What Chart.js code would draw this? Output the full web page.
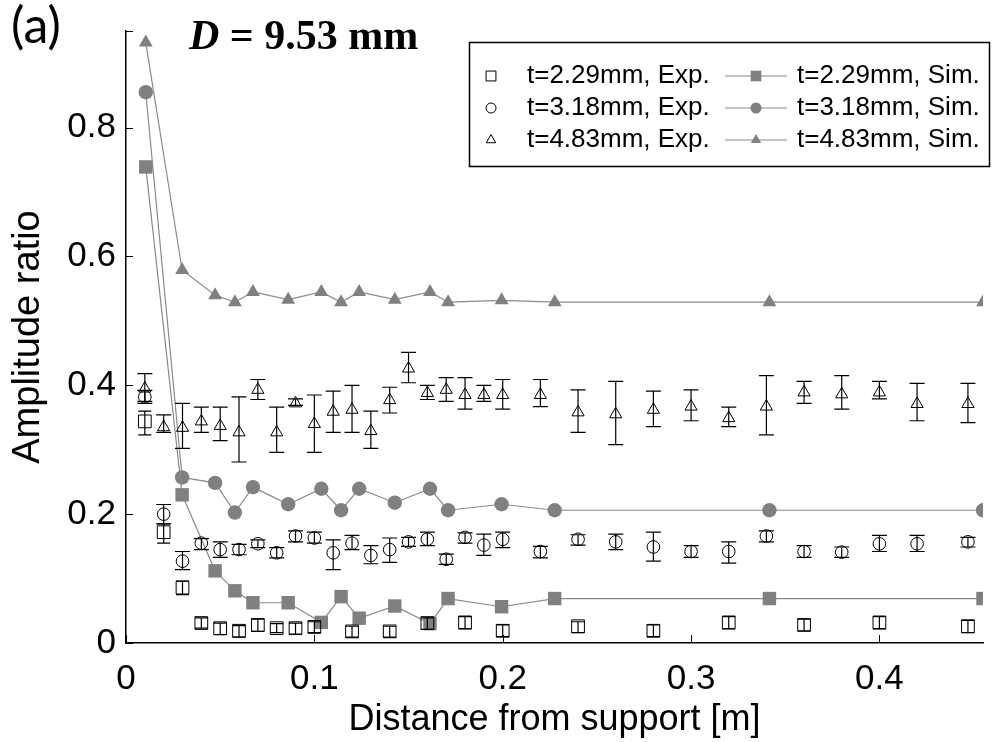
<!DOCTYPE html>
<html><head><meta charset="utf-8">
<script src="https://cdn.jsdelivr.net/npm/chart.js@4.4.1/dist/chart.umd.min.js"></script>
<style>
html,body{margin:0;padding:0;background:#fff;}
#wrap{position:relative;width:993px;height:742px;overflow:hidden;}
#panel{position:absolute;left:11px;top:-6px;font:50px Lato,"Noto Sans",sans-serif;color:#000;line-height:1.2;}
#ttl{position:absolute;left:189px;top:10px;font:bold 42px "Liberation Serif","Times New Roman",serif;color:#000;white-space:pre;line-height:1.2;}
</style>
</head><body>
<div id="wrap">
<canvas id="c" width="993" height="742"></canvas>
<div id="panel">(a)</div>
<div id="ttl"><i>D</i> = 9.53 mm</div>
</div>
<script>
// ---------- data ----------
const xTicks = [0, 0.1, 0.2, 0.3, 0.4];
const yTicks = [0, 0.2, 0.4, 0.6, 0.8];

const seriesNames = ['t=2.29mm, Exp.', 't=3.18mm, Exp.', 't=4.83mm, Exp.',
                     't=2.29mm, Sim.', 't=3.18mm, Sim.', 't=4.83mm, Sim.'];

// simulation
const simX   = [0.0105, 0.0298, 0.0473, 0.0578, 0.0674, 0.0861, 0.1037, 0.1142, 0.1238, 0.1427, 0.1614, 0.171, 0.1994, 0.2276, 0.3416, 0.455];
const sim229 = [0.739, 0.230, 0.112, 0.081, 0.0625, 0.0625, 0.032, 0.072, 0.0385, 0.0574, 0.030, 0.069, 0.0563, 0.069, 0.069, 0.069];
const sim318 = [0.855, 0.257, 0.2486, 0.2025, 0.242, 0.2154, 0.2394, 0.2061, 0.2394, 0.2178, 0.2394, 0.2061, 0.2154, 0.2061, 0.2061, 0.2061];
const sim483 = [0.932, 0.579, 0.540, 0.529, 0.545, 0.533, 0.545, 0.529, 0.545, 0.533, 0.545, 0.529, 0.532, 0.529, 0.529, 0.529];

// experiments (t=3.18, t=4.83 share positions)
const expX = [0.01, 0.02, 0.03, 0.04, 0.05, 0.06, 0.07, 0.08, 0.09, 0.10,
              0.11, 0.12, 0.13, 0.14, 0.15, 0.16, 0.17, 0.18, 0.19, 0.20,
              0.22, 0.24, 0.26, 0.28, 0.30, 0.32, 0.34, 0.36, 0.38, 0.40, 0.42, 0.447];
const exp483   = [0.395, 0.335, 0.334, 0.344, 0.337, 0.327, 0.393, 0.327, 0.372, 0.340,
                  0.359, 0.362, 0.329, 0.377, 0.426, 0.388, 0.393, 0.385, 0.385, 0.385,
                  0.385, 0.358, 0.355, 0.362, 0.367, 0.349, 0.367, 0.389, 0.386, 0.389, 0.371, 0.371];
const exp483Lo = [0.375, 0.327, 0.302, 0.327, 0.314, 0.281, 0.378, 0.296, 0.369, 0.296,
                  0.327, 0.327, 0.302, 0.357, 0.404, 0.378, 0.375, 0.363, 0.375, 0.363,
                  0.367, 0.327, 0.308, 0.336, 0.345, 0.336, 0.323, 0.372, 0.363, 0.379, 0.345, 0.342];
const exp483Hi = [0.418, 0.354, 0.372, 0.366, 0.366, 0.382, 0.409, 0.366, 0.379, 0.385,
                  0.391, 0.400, 0.360, 0.397, 0.451, 0.400, 0.412, 0.412, 0.400, 0.409,
                  0.409, 0.393, 0.406, 0.391, 0.393, 0.366, 0.415, 0.406, 0.415, 0.406, 0.403, 0.403];

const exp318   = [0.382, 0.200, 0.127, 0.155, 0.145, 0.145, 0.154, 0.140, 0.166, 0.163,
                  0.140, 0.155, 0.136, 0.145, 0.157, 0.161, 0.130, 0.164, 0.152, 0.161,
                  0.142, 0.161, 0.157, 0.149, 0.142, 0.142, 0.166, 0.142, 0.141, 0.154, 0.154, 0.157];
const exp318Lo = [0.372, 0.185, 0.114, 0.145, 0.133, 0.137, 0.148, 0.132, 0.157, 0.155,
                  0.114, 0.145, 0.123, 0.125, 0.150, 0.151, 0.122, 0.155, 0.136, 0.148,
                  0.132, 0.152, 0.145, 0.127, 0.133, 0.124, 0.157, 0.133, 0.133, 0.142, 0.142, 0.149];
const exp318Hi = [0.392, 0.215, 0.142, 0.162, 0.157, 0.153, 0.160, 0.148, 0.174, 0.172,
                  0.160, 0.167, 0.151, 0.163, 0.164, 0.172, 0.138, 0.171, 0.169, 0.172,
                  0.150, 0.168, 0.169, 0.172, 0.151, 0.157, 0.174, 0.151, 0.149, 0.167, 0.167, 0.164];

const exp229X  = [0.01, 0.02, 0.03, 0.04, 0.05, 0.06, 0.07, 0.08, 0.09, 0.10,
                  0.12, 0.14, 0.16, 0.18, 0.20, 0.24, 0.28, 0.32, 0.36, 0.40, 0.447];
const exp229   = [0.344, 0.172, 0.086, 0.031, 0.023, 0.019, 0.028, 0.023, 0.023, 0.025,
                  0.018, 0.018, 0.031, 0.032, 0.019, 0.026, 0.019, 0.032, 0.028, 0.032, 0.026];
const exp229Lo = [0.323, 0.155, 0.075, 0.023, 0.013, 0.009, 0.018, 0.016, 0.014, 0.016,
                  0.009, 0.009, 0.021, 0.022, 0.010, 0.016, 0.010, 0.022, 0.019, 0.022, 0.016];
const exp229Hi = [0.360, 0.185, 0.096, 0.039, 0.031, 0.027, 0.037, 0.030, 0.031, 0.033,
                  0.026, 0.026, 0.039, 0.041, 0.028, 0.033, 0.028, 0.041, 0.037, 0.041, 0.035];

// ---------- styling ----------
const SIM = '#808080';
const SIMLINE = '#8a8a8a';
const FONT = '"Liberation Sans", Arial, sans-serif';

function pts(xs, ys){ return xs.map((x,i)=>({x:x, y:ys[i]})); }

const errSets = [
  {x: exp229X, lo: exp229Lo, hi: exp229Hi, cap: 13},
  {x: expX,    lo: exp318Lo, hi: exp318Hi, cap: 15},
  {x: expX,    lo: exp483Lo, hi: exp483Hi, cap: 15}
];

const errPlugin = {
  id: 'errbars',
  afterDatasetsDraw(chart){
    const {ctx, chartArea:a, scales:{x, y}} = chart;
    ctx.save();
    ctx.beginPath(); ctx.rect(a.left, a.top, a.right-a.left, a.bottom-a.top); ctx.clip();
    ctx.strokeStyle = '#000'; ctx.lineWidth = 1.2;
    errSets.forEach(es => {
      es.x.forEach((xv, i) => {
        const px = x.getPixelForValue(xv);
        const pl = y.getPixelForValue(es.lo[i]);
        const ph = y.getPixelForValue(es.hi[i]);
        const h = es.cap/2;
        ctx.beginPath();
        ctx.moveTo(px, pl); ctx.lineTo(px, ph);
        ctx.moveTo(px-h, pl); ctx.lineTo(px+h, pl);
        ctx.moveTo(px-h, ph); ctx.lineTo(px+h, ph);
        ctx.stroke();
      });
    });
    ctx.restore();
  }
};

const tickPlugin = {
  id: 'inwardTicks',
  afterDraw(chart){
    const {ctx, chartArea:a, scales:{x, y}} = chart;
    ctx.save(); ctx.strokeStyle = '#000'; ctx.lineWidth = 1;
    ctx.beginPath();
    x.ticks.forEach(t => { const px = Math.round(x.getPixelForValue(t.value))+0.5; ctx.moveTo(px, a.bottom); ctx.lineTo(px, a.bottom-8); });
    y.ticks.concat([{value: y.max}]).forEach(t => { const py = Math.round(y.getPixelForValue(t.value))+0.5; ctx.moveTo(a.left, py); ctx.lineTo(a.left+7, py); });
    ctx.stroke();
    ctx.restore();
  }
};

function marker(ctx, style, x, y, r){
  ctx.beginPath();
  if (style === 'rect'){ const s = r*Math.SQRT1_2; ctx.rect(x-s, y-s, 2*s, 2*s); }
  else if (style === 'circle'){ ctx.arc(x, y, r, 0, Math.PI*2); }
  else { ctx.moveTo(x, y-r); ctx.lineTo(x+0.866*r, y+0.5*r); ctx.lineTo(x-0.866*r, y+0.5*r); ctx.closePath(); }
}

const legendPlugin = {
  id: 'boxLegend',
  afterDraw(chart){
    const ctx = chart.ctx;
    const ds = chart.data.datasets;
    ctx.save();
    ctx.fillStyle = '#fff'; ctx.fillRect(469, 42, 521, 125);
    ctx.strokeStyle = '#000'; ctx.lineWidth = 1.5; ctx.strokeRect(469.5, 42.5, 520, 124);
    const rows = [76, 108, 140];
    const eR = [7, 5, 5.5], sR = [7.5, 5.5, 6];
    ctx.font = '26px ' + FONT; ctx.textBaseline = 'middle'; ctx.textAlign = 'left';
    for (let i = 0; i < 3; i++){
      const e = ds[i], s = ds[i+3], yy = rows[i];
      ctx.lineWidth = 1; ctx.strokeStyle = '#000';
      marker(ctx, e.pointStyle, 491, yy, eR[i]); ctx.stroke();
      ctx.fillStyle = '#000'; ctx.fillText(e.label, 527, yy);
      ctx.strokeStyle = SIMLINE; ctx.lineWidth = 1.2;
      ctx.beginPath(); ctx.moveTo(725, yy); ctx.lineTo(787, yy); ctx.stroke();
      ctx.fillStyle = SIM; marker(ctx, s.pointStyle, 756, yy, sR[i]); ctx.fill();
      ctx.fillStyle = '#000'; ctx.fillText(s.label, 797, yy);
    }
    ctx.restore();
  }
};

function expDs(label, xs, ys, style, r){
  return {label, data: pts(xs, ys), showLine: false, pointStyle: style, pointRadius: r,
          pointBorderColor: '#000', pointBackgroundColor: 'rgba(0,0,0,0)', pointBorderWidth: 1,
          borderColor: '#000', backgroundColor: 'rgba(0,0,0,0)', order: 0};
}
function simDs(label, ys, style, r){
  return {label, data: pts(simX, ys), showLine: true, pointStyle: style, pointRadius: r,
          pointBorderColor: SIM, pointBackgroundColor: SIM, pointBorderWidth: 0,
          borderColor: SIMLINE, borderWidth: 1.2, backgroundColor: SIM, tension: 0, order: 1};
}

new Chart(document.getElementById('c'), {
  type: 'line',
  data: {
    datasets: [
      expDs(seriesNames[0], exp229X, exp229, 'rect', 9),
      expDs(seriesNames[1], expX, exp318, 'circle', 6.3),
      expDs(seriesNames[2], expX, exp483, 'triangle', 7),
      simDs(seriesNames[3], sim229, 'rect', 9.5),
      simDs(seriesNames[4], sim318, 'circle', 7.2),
      simDs(seriesNames[5], sim483, 'triangle', 8)
    ]
  },
  options: {
    responsive: false, animation: false, devicePixelRatio: 1,
    layout: {padding: {top: 25, right: 3, left: 0, bottom: 0}},
    plugins: {legend: {display: false}, tooltip: {enabled: false}},
    scales: {
      x: {
        type: 'linear', min: 0, max: 0.455,
        afterBuildTicks: s => { s.ticks = xTicks.map(v => ({value: v})); },
        afterFit: s => { s.height = 99; },
        grid: {display: true, drawOnChartArea: false, drawTicks: false},
        border: {display: true, color: '#000', width: 1.5},
        ticks: {font: {size: 35, family: FONT}, color: '#000', padding: 15, maxRotation: 0,
                callback: v => String(v)},
        title: {display: true, text: 'Distance from support [m]', color: '#000',
                font: {size: 36, family: FONT}, padding: {top: 0, bottom: 0}}
      },
      y: {
        type: 'linear', min: 0, max: 0.95,
        afterBuildTicks: s => { s.ticks = yTicks.map(v => ({value: v})); },
        afterFit: s => { s.width = 126; },
        grid: {display: true, drawOnChartArea: false, drawTicks: false},
        border: {display: true, color: '#000', width: 1.5},
        ticks: {font: {size: 35, family: FONT}, color: '#000', padding: 10,
                callback: v => String(v)},
        title: {display: true, text: 'Amplitude ratio', color: '#000',
                font: {size: 38, family: FONT}, padding: {top: 6, bottom: 0}}
      }
    }
  },
  plugins: [errPlugin, tickPlugin, legendPlugin]
});
</script>
</body></html>
